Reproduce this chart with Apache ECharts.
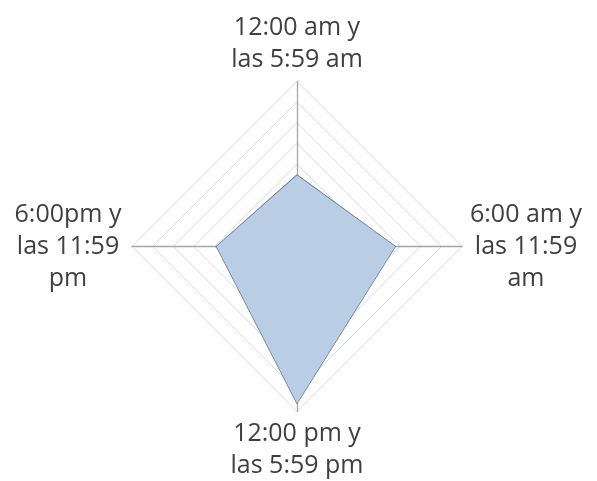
<!DOCTYPE html>
<html>
<head>
<meta charset="utf-8">
<style>html,body{margin:0;padding:0;background:#fff;}#c{width:597px;height:481px;}</style>
<script src="https://cdn.jsdelivr.net/npm/echarts@6/dist/echarts.min.js"></script>
</head>
<body>
<div id="c"></div>
<script>
// Indicators clockwise from top
const categories = ['12:00 am y\nlas 5:59 am', '6:00 am y\nlas 11:59\nam', '12:00 pm y\nlas 5:59 pm', '6:00pm y\nlas 11:59\npm'];
const values = [17.3, 23.8, 38.0, 19.5];
const axisMax = 40;

const chart = echarts.init(document.getElementById('c'));
// ECharts radar indicators go counter-clockwise from top: top, left, bottom, right
const order = [0, 3, 2, 1];
const FONT = 'Open Sans';
const FS = 25;
chart.setOption({
  animation: false,
  radar: {
    center: [297, 246.5],
    radius: 165,
    startAngle: 90,
    splitNumber: 8,
    shape: 'polygon',
    nameGap: 6,
    indicator: order.map(i => ({ name: categories[i], max: axisMax, min: 0 })),
    axisName: {
      color: '#404040',
      fontFamily: FONT,
      fontSize: FS,
      lineHeight: 32,
      formatter: function (name) {
        return name.split('\n').map(s => '{a|' + s + '}').join('\n');
      },
      rich: {
        a: { width: 116, align: 'center', color: '#404040', fontFamily: FONT, fontSize: FS, lineHeight: 32 }
      }
    },
    axisLine: { lineStyle: { color: '#a6a6a6', width: 1.3 } },
    splitLine: { lineStyle: { color: '#d9d9d9', width: 1 } },
    splitArea: { show: false }
  },
  series: [{
    type: 'radar',
    symbol: 'none',
    data: [{
      value: order.map(i => values[i]),
      lineStyle: { color: '#5a6f91', width: 1.4 },
      areaStyle: { color: '#b9cde5', opacity: 1 }
    }]
  }]
});
</script>
</body>
</html>
